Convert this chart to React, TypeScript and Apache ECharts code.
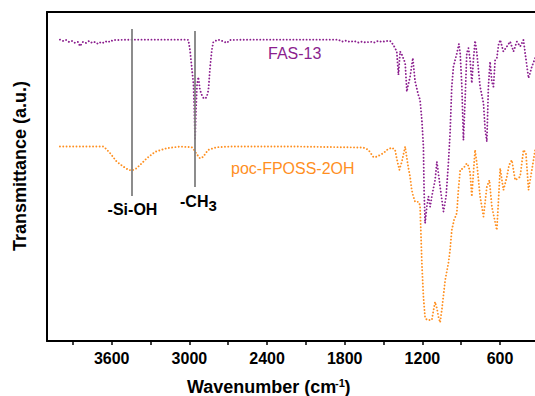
import React, { useEffect, useRef } from "react";
import * as echarts from "echarts";

// FAS-13 spectrum (wavenumber cm-1, transmittance a.u.)
const fasWavenumber = [
  4000, 3976, 3953, 3930, 3907, 3884, 3860, 3845, 3822, 3799, 3775, 3752, 3729, 3706, 3683, 3660, 3636, 3613, 3590, 3559,
  3459, 3304, 3020, 3008, 2995, 2982, 2969, 2962, 2956, 2949, 2941, 2931, 2918, 2904, 2892, 2879, 2866, 2853, 2840, 2827,
  2815, 2779, 2748, 2711, 2686, 2531, 2145, 1851, 1820, 1789, 1758, 1728, 1697, 1666, 1635, 1604, 1573, 1542, 1511, 1480,
  1449, 1424, 1398, 1385, 1372, 1357, 1333, 1320, 1310, 1295, 1274, 1256, 1231, 1218, 1204, 1192, 1187, 1179, 1166, 1153,
  1140, 1125, 1102, 1088, 1063, 1037, 1017, 999, 986, 973, 960, 934, 918, 908, 895, 883, 870, 857, 844, 831,
  818, 806, 793, 779, 754, 728, 715, 702, 690, 677, 663, 651, 638, 625, 612, 599, 574, 547, 522, 496,
  470, 445, 419, 406, 380, 354, 329,
];
const fasTransmittance = [
  91.6, 91.2, 91.5, 90.9, 91.2, 90.6, 90.9, 89.6, 90.9, 90.6, 91.2, 90.6, 90.9, 90.3, 90.9, 90.6, 91.2, 90.9, 91.5, 91.5,
  91.6, 91.6, 91.6, 91.5, 88.4, 83.3, 78.4, 70.2, 61.1, 70.2, 77.8, 80.2, 76.3, 74.8, 73.9, 73.6, 74.2, 76.3, 83.3, 88.4,
  90.9, 91.6, 91.2, 90.6, 91.5, 91.6, 91.6, 91.6, 91.0, 91.3, 90.9, 91.2, 90.7, 91.0, 90.7, 91.0, 90.7, 91.2, 90.9, 91.2,
  91.2, 90.0, 88.0, 80.9, 88.0, 86.9, 84.5, 75.8, 77.8, 80.3, 86.0, 78.8, 74.8, 73.3, 67.2, 59.1, 45.9, 35.8, 40.8, 43.9,
  40.8, 44.4, 48.9, 54.5, 46.9, 39.3, 43.9, 54.1, 63.2, 77.3, 83.4, 87.4, 90.3, 87.5, 77.3, 61.1, 73.3, 87.5, 89.0, 85.4,
  78.4, 85.4, 91.3, 87.5, 77.3, 72.3, 64.1, 60.6, 77.3, 84.9, 78.8, 77.3, 85.4, 85.9, 90.0, 91.5, 88.0, 89.5, 91.0, 88.0,
  91.0, 89.5, 91.5, 87.5, 79.9, 83.4, 86.0,
];

// poc-FPOSS-2OH spectrum
const pocWavenumber = [
  4000, 3845, 3665, 3644, 3613, 3561, 3510, 3474, 3445, 3412, 3381, 3330, 3265, 3175, 3072, 2982, 2964, 2943, 2918, 2892,
  2875, 2853, 2789, 2686, 2145, 1656, 1617, 1578, 1552, 1501, 1473, 1436, 1411, 1398, 1378, 1359, 1333, 1320, 1308, 1295,
  1282, 1270, 1256, 1231, 1218, 1212, 1204, 1192, 1179, 1163, 1127, 1114, 1102, 1088, 1076, 1063, 1050, 1037, 1024, 999,
  986, 973, 955, 934, 922, 908, 883, 857, 844, 831, 818, 806, 793, 779, 754, 728, 702, 682, 663, 645,
  625, 612, 599, 574, 547, 530, 509, 483, 445, 419, 400, 380, 354, 329,
];
const pocTransmittance = [
  59.1, 59.1, 59.1, 58.4, 57.1, 54.5, 53.0, 52.1, 51.8, 52.4, 53.5, 55.5, 57.5, 58.6, 59.1, 58.9, 58.1, 56.8, 55.5, 56.0,
  57.1, 58.1, 58.9, 59.1, 59.1, 58.8, 58.1, 55.9, 56.0, 57.1, 58.1, 58.8, 58.1, 55.5, 52.0, 54.5, 59.1, 55.6, 52.6, 49.9,
  45.9, 43.9, 42.3, 42.3, 41.3, 33.7, 23.6, 13.5, 7.0, 6.4, 6.4, 9.4, 11.9, 10.0, 7.4, 5.6, 9.4, 14.0, 18.5, 23.7,
  27.7, 33.7, 36.8, 38.9, 45.9, 52.0, 52.5, 54.0, 53.2, 51.0, 43.9, 51.0, 58.1, 54.0, 43.9, 37.8, 46.9, 48.9, 40.8, 37.4,
  33.7, 42.9, 52.5, 45.9, 49.9, 53.5, 55.0, 48.9, 49.9, 58.1, 57.1, 45.9, 52.0, 58.1,
];

const xMajorTicks = [3600, 3000, 2400, 1800, 1200, 600];
const xAllTicks = [3900, 3600, 3300, 3000, 2700, 2400, 2100, 1800, 1500, 1200, 900, 600];

// annotation lines: [wavenumber, top, bottom]
const siOhLine = [3445, 94.8, 44.1];
const ch3Line = [2956, 94.2, 46.8];

const FONT = '"Liberation Sans", Arial, Helvetica, sans-serif';
const PURPLE = "#8B1E8E";
const ORANGE = "#FF8F1F";

export default function App() {
  const ref = useRef<HTMLDivElement>(null);
  useEffect(() => {
    if (!ref.current) return;
    const chart = echarts.init(ref.current, null, { renderer: "svg" });
    const zip = (a: number[], b: number[]) => a.map((w, i) => [w, b[i]]);
    const dotted = (color: string) => ({ color, width: 1.9, type: [0.01, 3.3], cap: "round" });
    const bold = (text: string, x: number, y: number, size: number, align = "left") => ({
      type: "text",
      x,
      y,
      style: { text, fill: "#000", fontSize: size, fontWeight: "bold", fontFamily: FONT, align, verticalAlign: "middle" },
    });
    chart.setOption({
      animation: false,
      grid: { left: 47, right: 0, top: 12, bottom: 55, containLabel: false, outerBoundsMode: "none" },
      xAxis: [
        {
          type: "value",
          min: 330,
          max: 4100,
          inverse: true,
          axisLine: { show: true, lineStyle: { color: "#000", width: 2 } },
          axisTick: { show: true, customValues: xAllTicks, length: 4, lineStyle: { color: "#000", width: 1.5 } },
          axisLabel: {
            customValues: xMajorTicks,
            formatter: (v: number) => String(v),
            fontSize: 16,
            fontWeight: "bold",
            color: "#000",
            fontFamily: FONT,
            margin: 9,
          },
          splitLine: { show: false },
        },
        {
          type: "value",
          position: "top",
          min: 330,
          max: 4100,
          inverse: true,
          axisLine: { show: true, lineStyle: { color: "#000", width: 2 } },
          axisTick: { show: false },
          axisLabel: { show: false },
          splitLine: { show: false },
        },
      ],
      yAxis: {
        type: "value",
        min: 0,
        max: 100,
        axisLine: { show: true, lineStyle: { color: "#000", width: 2 } },
        axisTick: { show: false },
        axisLabel: { show: false },
        splitLine: { show: false },
      },
      series: [
        {
          name: "poc-FPOSS-2OH",
          type: "line",
          data: zip(pocWavenumber, pocTransmittance),
          showSymbol: false,
          symbol: "none",
          lineStyle: dotted(ORANGE),
          markLine: {
            silent: true,
            symbol: "none",
            label: { show: false },
            lineStyle: { color: "#808080", width: 1.8, type: "solid" },
            data: [
              [{ coord: [siOhLine[0], siOhLine[1]] }, { coord: [siOhLine[0], siOhLine[2]] }],
              [{ coord: [ch3Line[0], ch3Line[1]] }, { coord: [ch3Line[0], ch3Line[2]] }],
            ],
          },
        },
        {
          name: "FAS-13",
          type: "line",
          data: zip(fasWavenumber, fasTransmittance),
          showSymbol: false,
          symbol: "none",
          lineStyle: dotted(PURPLE),
        },
      ],
      graphic: [
        {
          type: "text",
          x: 268,
          y: 53,
          style: { text: "FAS-13", fill: PURPLE, fontSize: 16, fontFamily: FONT, align: "left", verticalAlign: "middle" },
        },
        {
          type: "text",
          x: 231,
          y: 168,
          style: { text: "poc-FPOSS-2OH", fill: ORANGE, fontSize: 16, fontFamily: FONT, align: "left", verticalAlign: "middle" },
        },
        bold("-Si-OH", 132.5, 209, 16, "center"),
        bold("-CH", 180, 201, 16),
        bold("3", 208.5, 205.5, 15),
        {
          type: "text",
          x: 19.5,
          y: 166,
          rotation: Math.PI / 2,
          style: {
            text: "Transmittance (a.u.)",
            fill: "#000",
            fontSize: 18,
            fontWeight: "bold",
            fontFamily: FONT,
            align: "center",
            verticalAlign: "middle",
          },
        },
        bold("Wavenumber (cm", 187, 387, 18),
        bold("-1", 335, 383, 11),
        bold(")", 344.5, 387, 18),
      ],
    });
    return () => chart.dispose();
  }, []);
  return <div ref={ref} style={{ position: "fixed", left: 0, top: 0, width: 535, height: 396, background: "#fff" }} />;
}
